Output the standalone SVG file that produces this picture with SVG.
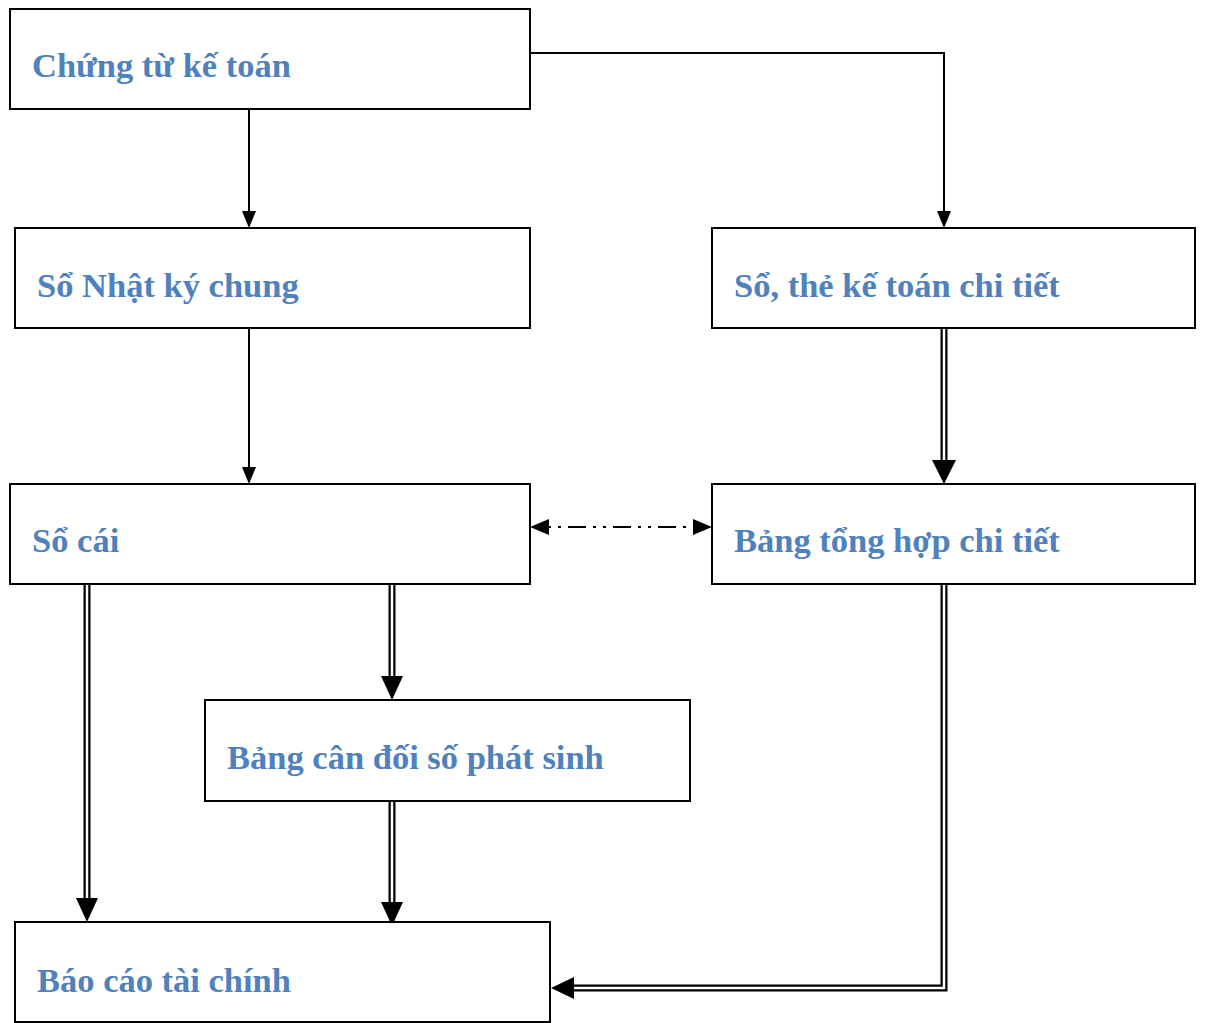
<svg xmlns="http://www.w3.org/2000/svg" width="1205" height="1023" viewBox="0 0 1205 1023">
<style>
.box{fill:#fff;stroke:#000;stroke-width:2}
.t{font-family:"Liberation Serif","Times New Roman",serif;font-weight:bold;font-size:34.5px;fill:#4F81BD}
.s{fill:none;stroke:#000;stroke-width:2}
.dbo{fill:none;stroke:#000;stroke-width:7}
.dbi{fill:none;stroke:#fff;stroke-width:2.5}
.ah{fill:#000}
</style>
<rect width="1205" height="1023" fill="#fff"/>
<g id="connectors">
<line class="s" x1="249" y1="109" x2="249" y2="214"/>
<polygon class="ah" points="242,211 256,211 249,228"/>
<polyline class="s" points="530,53 944,53 944,214"/>
<polygon class="ah" points="937,211 951,211 944,228"/>
<line class="s" x1="249" y1="328" x2="249" y2="470"/>
<polygon class="ah" points="242,467 256,467 249,484"/>
<line class="dbo" x1="944" y1="328" x2="944" y2="465"/>
<line class="dbi" x1="944" y1="328" x2="944" y2="465"/>
<polygon class="ah" points="932,460 956,460 944,484"/>
<line class="s" x1="548" y1="527" x2="694" y2="527" stroke-width="2.5" stroke-dasharray="3,7,3,7,18,7"/>
<polygon class="ah" points="530,527 549,519 549,535"/>
<polygon class="ah" points="712,527 693,519 693,535"/>
<line class="dbo" x1="87" y1="584" x2="87" y2="902"/>
<line class="dbi" x1="87" y1="584" x2="87" y2="902"/>
<polygon class="ah" points="76,898 98,898 87,922"/>
<line class="dbo" x1="392" y1="584" x2="392" y2="680"/>
<line class="dbi" x1="392" y1="584" x2="392" y2="680"/>
<polygon class="ah" points="381,676 403,676 392,700"/>
<line class="dbo" x1="392" y1="801" x2="392" y2="905"/>
<line class="dbi" x1="392" y1="801" x2="392" y2="905"/>
<polygon class="ah" points="381,902 403,902 392,926"/>
<polyline class="dbo" points="944,584 944,988 570,988"/>
<polyline class="dbi" points="944,584 944,988 570,988"/>
<polygon class="ah" points="551,988 574,977 574,999"/>
</g>
<g id="n1"><rect class="box" x="10" y="9" width="520" height="100"/><text class="t" x="32" y="77">Chứng từ kế toán</text></g>
<g id="n2"><rect class="box" x="15" y="228" width="515" height="100"/><text class="t" x="37" y="297">Sổ Nhật ký chung</text></g>
<g id="n3"><rect class="box" x="712" y="228" width="483" height="100"/><text class="t" x="734" y="297">Sổ, thẻ kế toán chi tiết</text></g>
<g id="n4"><rect class="box" x="10" y="484" width="520" height="100"/><text class="t" x="32" y="552">Sổ cái</text></g>
<g id="n5"><rect class="box" x="712" y="484" width="483" height="100"/><text class="t" x="734" y="552">Bảng tổng hợp chi tiết</text></g>
<g id="n6"><rect class="box" x="205" y="700" width="485" height="101"/><text class="t" x="227" y="769">Bảng cân đối số phát sinh</text></g>
<g id="n7"><rect class="box" x="15" y="922" width="535" height="100"/><text class="t" x="37" y="992">Báo cáo tài chính</text></g>
</svg>
